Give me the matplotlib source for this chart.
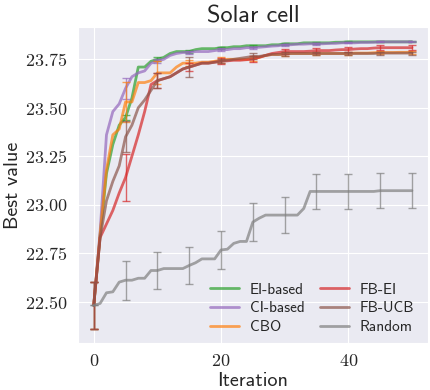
import numpy as np
import matplotlib
matplotlib.use("Agg")
import matplotlib.pyplot as plt
import seaborn as sns
from matplotlib.ticker import FuncFormatter

# valores (mejor valor por iteracion)
iteraciones = list(range(51))

ei_based = [22.48, 22.84, 23.16, 23.31, 23.41, 23.45, 23.55, 23.71, 23.71, 23.74,
            23.75, 23.76, 23.78, 23.79, 23.79, 23.79, 23.80, 23.805, 23.805, 23.805,
            23.81, 23.81, 23.815, 23.815, 23.82, 23.82, 23.82, 23.82, 23.825, 23.825,
            23.83, 23.83, 23.83, 23.835, 23.835, 23.835, 23.835, 23.835, 23.838, 23.838,
            23.84, 23.84, 23.84, 23.84, 23.84, 23.84, 23.84, 23.84, 23.84, 23.84, 23.84]
ci_based = [22.48, 22.86, 23.36, 23.48, 23.52, 23.60, 23.66, 23.68, 23.69, 23.73,
            23.74, 23.75, 23.77, 23.78, 23.785, 23.785, 23.79, 23.79, 23.79, 23.795,
            23.80, 23.80, 23.805, 23.805, 23.81, 23.81, 23.812, 23.815, 23.818, 23.82,
            23.825, 23.825, 23.828, 23.828, 23.83, 23.83, 23.83, 23.832, 23.832, 23.835,
            23.835, 23.835, 23.837, 23.837, 23.838, 23.84, 23.84, 23.84, 23.84, 23.84, 23.84]
cbo = [22.48, 22.85, 23.18, 23.36, 23.39, 23.53, 23.53, 23.63, 23.63, 23.64,
       23.68, 23.68, 23.68, 23.71, 23.73, 23.73, 23.73, 23.735, 23.735, 23.74,
       23.745, 23.75, 23.75, 23.75, 23.75, 23.755, 23.76, 23.77, 23.775, 23.775,
       23.777, 23.78, 23.78, 23.78, 23.78, 23.78, 23.78, 23.78, 23.78, 23.78,
       23.78, 23.782, 23.782, 23.782, 23.784, 23.785, 23.785, 23.785, 23.786, 23.786, 23.787]
fb_ei = [22.48, 22.83, 22.90, 22.97, 23.06, 23.14, 23.25, 23.36, 23.48, 23.62,
         23.64, 23.65, 23.66, 23.68, 23.70, 23.71, 23.72, 23.73, 23.73, 23.735,
         23.74, 23.742, 23.745, 23.745, 23.748, 23.75, 23.76, 23.77, 23.78, 23.785,
         23.79, 23.79, 23.79, 23.79, 23.792, 23.795, 23.795, 23.795, 23.798, 23.80,
         23.80, 23.803, 23.805, 23.805, 23.808, 23.81, 23.81, 23.81, 23.81, 23.81, 23.81]
fb_ucb = [22.48, 22.83, 23.02, 23.12, 23.20, 23.35, 23.41, 23.50, 23.54, 23.59,
          23.64, 23.65, 23.66, 23.68, 23.70, 23.71, 23.72, 23.73, 23.73, 23.735,
          23.74, 23.745, 23.75, 23.755, 23.76, 23.765, 23.765, 23.77, 23.775, 23.775,
          23.777, 23.78, 23.78, 23.78, 23.78, 23.78, 23.78, 23.78, 23.78, 23.78,
          23.78, 23.78, 23.78, 23.78, 23.78, 23.782, 23.782, 23.782, 23.782, 23.782, 23.782]
aleatorio = [22.48, 22.49, 22.545, 22.55, 22.60, 22.61, 22.61, 22.62, 22.62, 22.66,
             22.66, 22.67, 22.67, 22.67, 22.67, 22.686, 22.70, 22.72, 22.72, 22.72,
             22.766, 22.77, 22.80, 22.81, 22.81, 22.91, 22.93, 22.946, 22.946, 22.946,
             22.946, 22.946, 22.946, 22.98, 23.068, 23.068, 23.068, 23.068, 23.068, 23.068,
             23.068, 23.068, 23.068, 23.068, 23.068, 23.072, 23.072, 23.072, 23.072, 23.072, 23.072]

# barras de error cada 5 iteraciones
err_ei = [0.12, 0.012, 0.01, 0.008, 0.006, 0.005, 0.004, 0.004, 0.003, 0.003, 0.003]
err_ci = [0.12, 0.055, 0.01, 0.008, 0.006, 0.005, 0.004, 0.004, 0.003, 0.003, 0.003]
err_cbo = [0.12, 0.105, 0.06, 0.015, 0.015, 0.012, 0.01, 0.008, 0.01, 0.008, 0.008]
err_fb_ei = [0.12, 0.12, 0.04, 0.02, 0.015, 0.015, 0.012, 0.012, 0.012, 0.012, 0.012]
err_fb_ucb = [0.12, 0.08, 0.04, 0.05, 0.01, 0.015, 0.01, 0.008, 0.008, 0.008, 0.008]
err_aleatorio = [0.0, 0.10, 0.095, 0.095, 0.10, 0.10, 0.095, 0.09, 0.09, 0.09, 0.09]

series = [
    ("EI-based", ei_based, err_ei, "tab:green"),
    ("CI-based", ci_based, err_ci, "tab:purple"),
    ("CBO", cbo, err_cbo, "tab:orange"),
    ("FB-EI", fb_ei, err_fb_ei, "tab:red"),
    ("FB-UCB", fb_ucb, err_fb_ucb, "tab:brown"),
    ("Random", aleatorio, err_aleatorio, "tab:gray"),
]

sns.set_style("darkgrid")
plt.rcParams["mathtext.fontset"] = "cm"
plt.rcParams["font.family"] = ["cmss10", "DejaVu Sans"]
plt.rcParams["axes.unicode_minus"] = False

fig = plt.figure(figsize=(4.3, 3.9), dpi=100)
ax = fig.add_axes([0.181, 0.1205, 0.814, 0.8105])

x = np.array(iteraciones)
for nombre, valores, errores, color in series:
    y = np.array(valores)
    ax.plot(x, y, color=color, lw=2.0, alpha=0.7, label=nombre)
    ax.errorbar(x[::5], y[::5], yerr=errores, fmt="none", ecolor=color,
                alpha=0.7, elinewidth=1.0, capsize=3)

ax.set_xticks([0, 20, 40])
ax.set_yticks([22.50, 22.75, 23.00, 23.25, 23.50, 23.75])
ax.xaxis.set_major_formatter(FuncFormatter(lambda v, p: f"${v:.0f}$"))
ax.yaxis.set_major_formatter(FuncFormatter(lambda v, p: f"${v:.2f}$"))
ax.tick_params(labelsize=13, pad=4)

ax.set_title("Solar cell", fontsize=17.5, pad=3)
ax.set_xlabel("Iteration", fontsize=14.5, labelpad=2)
ax.set_ylabel("Best value", fontsize=14.5, labelpad=2)

ax.legend(ncol=2, loc="lower right", bbox_to_anchor=(1.0, -0.015), frameon=False,
          fontsize=11, columnspacing=1.0, handlelength=1.9, handletextpad=0.7,
          labelspacing=0.3)

plt.savefig("out.png", dpi=100)
